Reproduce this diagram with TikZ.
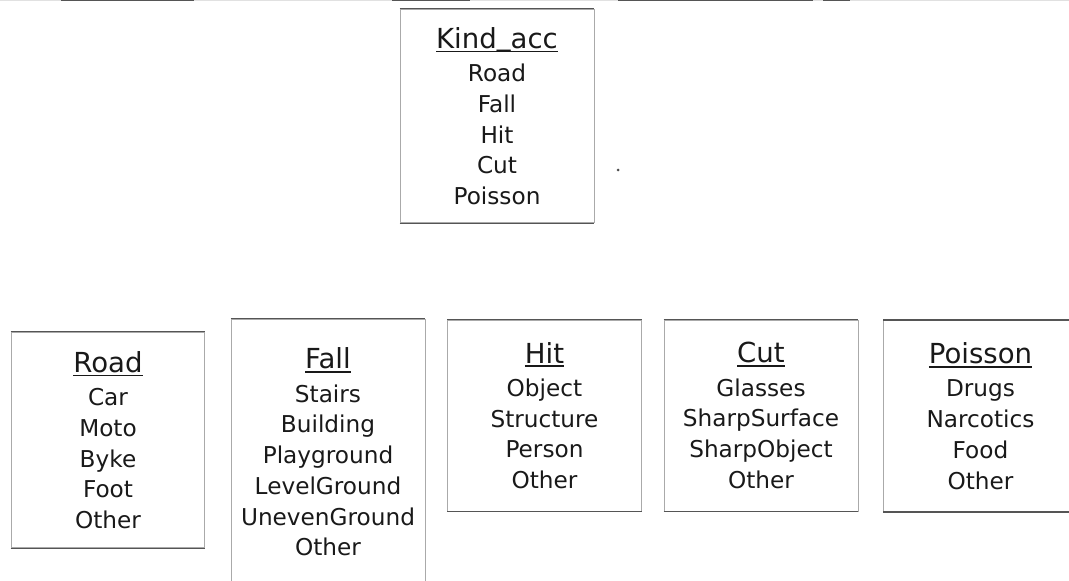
\documentclass[tikz,border=0pt]{standalone}
\usepackage{fontspec}
\setmainfont{DejaVu Sans}
\definecolor{rimgray}{RGB}{85,85,85}
\definecolor{sidegray}{RGB}{170,170,170}
\definecolor{scangray}{RGB}{225,225,225}
\newcommand{\bodysize}{\fontsize{13.2pt}{17.5pt}\selectfont}
\newcommand{\hd}[1]{{\fontsize{15.7pt}{17.5pt}\selectfont\setbox0\hbox{#1}\rlap{\rule[-2.3pt]{\wd0}{0.9pt}}\box0}}

\begin{document}
\begin{tikzpicture}[x=0.02cm, y=-0.02cm,
    catbox/.style={draw=sidegray, line width=0.55pt, align=center, font=\bodysize, minimum width=3.88cm, inner sep=0pt, text=black!90},
    rim/.style={draw=rimgray, line width=0.85pt}]
    \useasboundingbox (0,0) rectangle (1069,581);
    \clip (0,0) rectangle (1069,581);
    \draw[scangray, line width=0.6pt] (0,0.5) -- (1069,0.5);
    \foreach \a/\b in {61/194, 392/470, 618/813, 823/850}
        \draw[rimgray, line width=0.6pt] (\a,0.5) -- (\b,0.5);

    \node[catbox, minimum height=4.28cm] (kind) at (497,116) {\hd{Kind\raisebox{1.4pt}{\_}acc}\\[1.5pt] Road\\ Fall\\ Hit\\ Cut\\ Poisson};

    \node[catbox, minimum height=4.32cm] (road) at (108,440) {\hd{Road}\\[1.5pt] Car\\ Moto\\ Byke\\ Foot\\ Other};
    \node[catbox, minimum height=5.32cm] (fall) at (328,452) {\hd{Fall}\\[1.5pt] Stairs\\ Building\\ Playground\\ LevelGround\\ UnevenGround\\ Other};
    \node[catbox, minimum height=3.82cm] (hit) at (544.5,415.5) {\hd{Hit}\\[1.5pt] Object\\ Structure\\ Person\\ Other};
    \node[catbox, minimum height=3.82cm] (cut) at (761,415.5) {\hd{Cut}\\[1.5pt] Glasses\\ SharpSurface\\ SharpObject\\ Other};
    \node[catbox, minimum height=3.82cm] (poisson) at (980.5,416) {\hd{Poisson}\\[1.5pt] Drugs\\ Narcotics\\ Food\\ Other};

    \foreach \n in {kind, road, fall, hit, cut, poisson}
        \draw[rim] (\n.north west) -- (\n.north east) (\n.south west) -- (\n.south east);
    \fill[black!70] (618,170) circle (0.03cm);
\end{tikzpicture}
\end{document}
